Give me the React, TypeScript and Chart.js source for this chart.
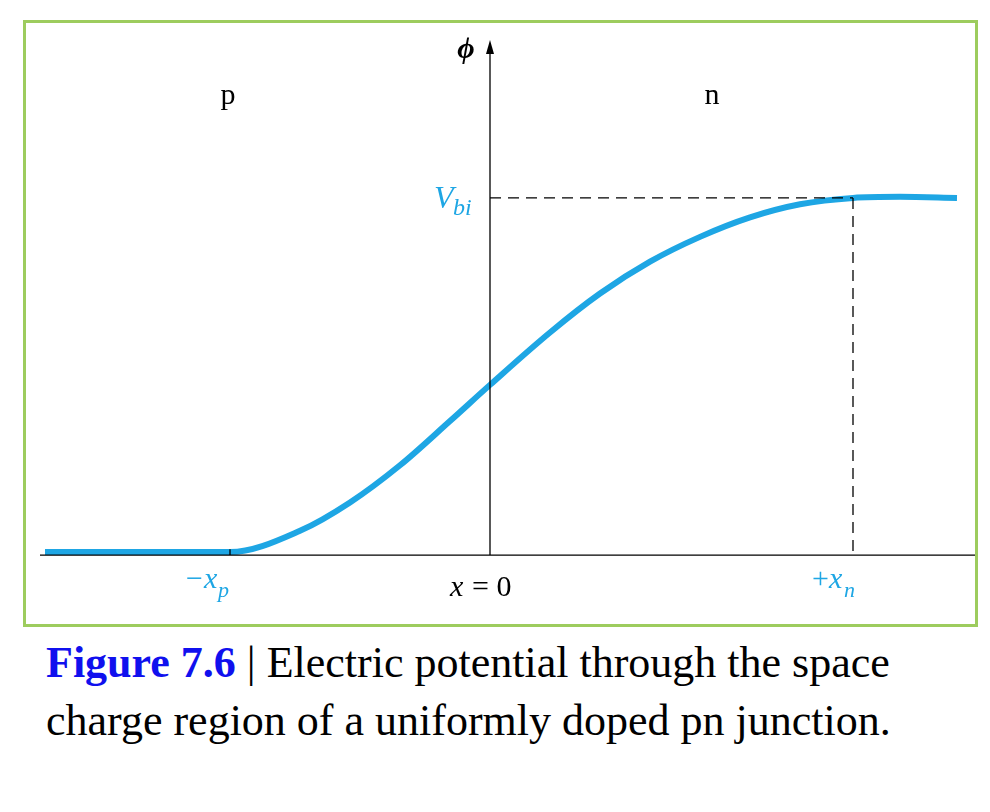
import React, { useEffect, useRef } from "react";
import { Chart, registerables } from "chart.js";
Chart.register(...registerables);

const xs = [-4.45, -3.5, -2.6, -1.9, -1.4, -0.9, -0.4, 0, 0.6, 1.1, 1.6, 2.1, 2.6, 3.1, 3.63, 4.1, 4.67];
const phi = [0, 0, 0, 0.06, 0.14, 0.245, 0.37, 0.472, 0.62, 0.73, 0.82, 0.89, 0.945, 0.982, 1, 1.003, 1.0];
const xp = -2.6;
const xn = 3.63;
const vbi = 1;

const BLUE = "#1ea6e4";

const overlay = {
  id: "overlay",
  afterDraw(c: any) {
    const ctx = c.ctx;
    const X = c.scales.x, Y = c.scales.y;
    const x0 = X.getPixelForValue(0);
    const ya = Y.getPixelForValue(-0.009);
    ctx.save();
    ctx.strokeStyle = "#000"; ctx.lineWidth = 1.3;
    ctx.beginPath();
    ctx.moveTo(X.getPixelForValue(-4.5), ya); ctx.lineTo(X.getPixelForValue(4.85), ya);
    ctx.moveTo(x0, ya); ctx.lineTo(x0, 52);
    const px = X.getPixelForValue(xp);
    ctx.moveTo(px, ya); ctx.lineTo(px, ya - 6);
    ctx.stroke();
    ctx.fillStyle = "#000";
    ctx.beginPath(); ctx.moveTo(x0, 40); ctx.lineTo(x0 - 4, 54); ctx.lineTo(x0 + 4, 54); ctx.closePath(); ctx.fill();
    const pn = X.getPixelForValue(xn), pv = Y.getPixelForValue(vbi);
    ctx.setLineDash([11, 7]); ctx.lineWidth = 1.3;
    ctx.beginPath(); ctx.moveTo(x0, pv); ctx.lineTo(pn, pv); ctx.moveTo(pn, pv); ctx.lineTo(pn, ya); ctx.stroke();
    ctx.setLineDash([]);
    ctx.textBaseline = "alphabetic";
    ctx.font = "30px 'Liberation Serif'";
    ctx.textAlign = "center";
    ctx.fillText("p", 228, 104); ctx.fillText("n", 712, 104);
    ctx.font = "bold italic 30px 'Liberation Serif'";
    ctx.fillText("ϕ", 466, 58);
    ctx.fillStyle = BLUE;
    ctx.textAlign = "left";
    ctx.font = "italic 32px 'Liberation Serif'";
    ctx.fillText("V", 434, 208);
    ctx.font = "italic 24px 'Liberation Serif'";
    ctx.fillText("bi", 453, 215);
    ctx.font = "30px 'Liberation Serif'";
    ctx.fillText("−", 186, 588);
    ctx.font = "italic 30px 'Liberation Serif'";
    ctx.fillText("x", 204, 588);
    ctx.font = "italic 22px 'Liberation Serif'";
    ctx.fillText("p", 218, 597);
    ctx.font = "30px 'Liberation Serif'";
    ctx.fillText("+", 812, 588);
    ctx.font = "italic 30px 'Liberation Serif'";
    ctx.fillText("x", 829, 588);
    ctx.font = "italic 22px 'Liberation Serif'";
    ctx.fillText("n", 844, 597);
    ctx.fillStyle = "#000";
    ctx.font = "italic 30px 'Liberation Serif'";
    ctx.fillText("x", 450, 596);
    ctx.font = "30px 'Liberation Serif'";
    ctx.fillText("= 0", 472, 596);
    ctx.restore();
  },
};

export default function App() {
  const ref = useRef<HTMLCanvasElement>(null);
  useEffect(() => {
    const chart = new Chart(ref.current!, {
      type: "line",
      data: {
        datasets: [{
          data: xs.map((x, i) => ({ x, y: phi[i] })),
          borderColor: BLUE, borderWidth: 6, pointRadius: 0, cubicInterpolationMode: "monotone",
        }],
      },
      options: {
        animation: false, responsive: false, events: [],
        layout: { padding: 0 },
        plugins: { legend: { display: false }, tooltip: { enabled: false } },
        scales: {
          x: { type: "linear", display: false, min: -4.9, max: 5.0 },
          y: { type: "linear", display: false, min: -0.2203, max: 1.559 },
        },
      },
      plugins: [overlay],
    } as any);
    return () => chart.destroy();
  }, []);
  return (
    <div style={{ position: "absolute", left: 0, top: 0, width: 990, height: 812, background: "#fff" }}>
      <canvas ref={ref} width={990} height={630} style={{ position: "absolute", left: 0, top: 0 }} />
      <div style={{ position: "absolute", left: 23, top: 20, width: 949, height: 601, border: "3px solid #9dcc5e" }} />
      <div style={{ position: "absolute", left: 46, top: 634, width: 880, fontFamily: "'Liberation Serif', serif", fontSize: 44, lineHeight: "58px", color: "#000" }}>
        <span style={{ color: "#1010ee", fontWeight: "bold" }}>Figure 7.6</span> | Electric potential through the space charge region of a uniformly doped pn junction.
      </div>
    </div>
  );
}
